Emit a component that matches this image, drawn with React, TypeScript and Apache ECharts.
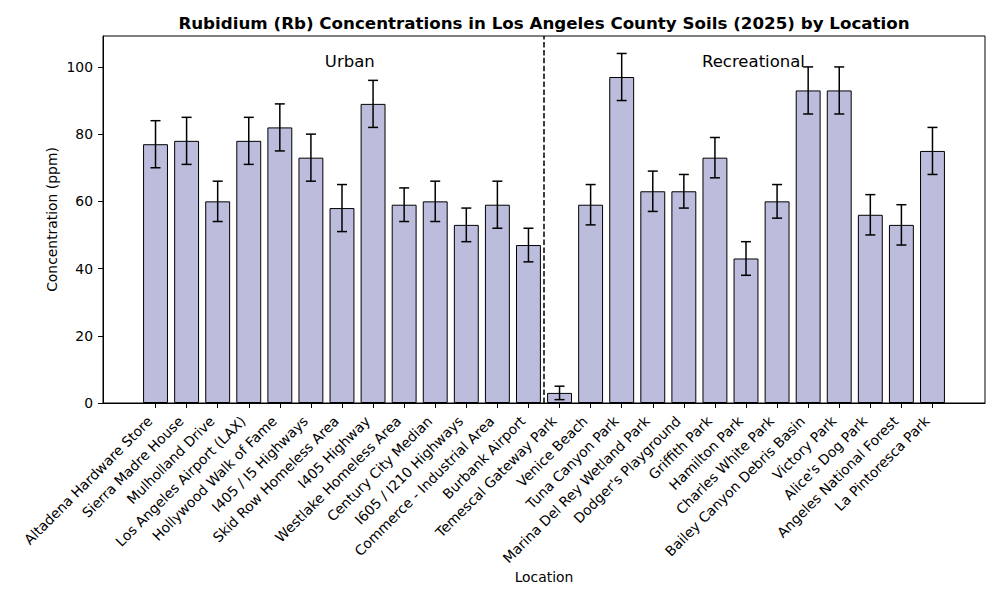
import React, { useEffect, useRef } from "react";
import * as echarts from "echarts";

const locations = [
  "Altadena Hardware Store",
  "Sierra Madre House",
  "Mulholland Drive",
  "Los Angeles Airport (LAX)",
  "Hollywood Walk of Fame",
  "I405 / I5 Highways",
  "Skid Row Homeless Area",
  "I405 Highway",
  "Westlake Homeless Area",
  "Century City Median",
  "I605 / I210 Highways",
  "Commerce - Industrial Area",
  "Burbank Airport",
  "Temescal Gateway Park",
  "Venice Beach",
  "Tuna Canyon Park",
  "Marina Del Rey Wetland Park",
  "Dodger's Playground",
  "Griffith Park",
  "Hamilton Park",
  "Charles White Park",
  "Bailey Canyon Debris Basin",
  "Victory Park",
  "Alice's Dog Park",
  "Angeles National Forest",
  "La Pintoresca Park",
];
const concentrations = [77, 78, 60, 78, 82, 73, 58, 89, 59, 60, 53, 59, 47, 3, 59, 97, 63, 63, 73, 43, 60, 93, 93, 56, 53, 75];
const errors = [7, 7, 6, 7, 7, 7, 7, 7, 5, 6, 5, 7, 5, 2, 6, 7, 6, 5, 6, 5, 5, 7, 7, 6, 6, 7];
const yTicks = [0, 20, 40, 60, 80, 100];
const groupLabels = ["Urban", "Recreational"];
const groupLabelX = [6.25, 19.24];
const groupLabelY = [100, 100];
const dividerX = 12.5;

const FONT = "DejaVu Sans";

export default function App() {
  const ref = useRef<HTMLDivElement>(null);

  useEffect(() => {
    if (!ref.current) return;
    const chart = echarts.init(ref.current, undefined, { renderer: "svg" });

    const n = locations.length;
    const lo = -0.4;
    const hi = n - 1 + 0.4;
    const pad = 0.05 * (hi - lo);
    const xMin = lo - pad;
    const xMax = hi + pad;
    const yMax = Math.max(...concentrations.map((v, i) => v + errors[i])) * 1.05;
    const xIdx = locations.map((_, i) => i);

    const option: any = {
      animation: false,
      title: {
        text: "Rubidium (Rb) Concentrations in Los Angeles County Soils (2025) by Location",
        left: 544,
        top: 14,
        textAlign: "center",
        textStyle: { fontFamily: FONT, fontSize: 16.7, fontWeight: "bold", color: "#000" },
        padding: 0,
      },
      grid: {
        left: 103,
        right: 15,
        top: 36,
        bottom: 197,
        show: true,
        borderColor: "#000",
        borderWidth: 1,
        backgroundColor: "transparent",
      },
      xAxis: {
        type: "value",
        min: xMin,
        max: xMax,
        name: "Location",
        nameLocation: "middle",
        nameGap: 167,
        nameMoveOverlap: false,
        nameTextStyle: { fontFamily: FONT, fontSize: 13.9, color: "#000" },
        axisLine: { show: true, onZero: false, lineStyle: { color: "#000", width: 1 } },
        axisTick: { show: true, length: 5, lineStyle: { color: "#000" }, customValues: xIdx },
        axisLabel: {
          customValues: xIdx,
          rotate: 45,
          margin: 10,
          padding: [0, 8, 0, 0],
          fontFamily: FONT,
          fontSize: 13.9,
          color: "#000",
          formatter: (v: number) => locations[Math.round(v)] ?? "",
        },
        splitLine: { show: false },
      },
      yAxis: {
        type: "value",
        min: 0,
        max: yMax,
        name: "Concentration (ppm)",
        nameLocation: "middle",
        nameGap: 44,
        nameMoveOverlap: false,
        nameTextStyle: { fontFamily: FONT, fontSize: 13.9, color: "#000" },
        axisLine: { show: true, onZero: false, lineStyle: { color: "#000", width: 1 } },
        axisTick: { show: true, length: 5, lineStyle: { color: "#000" }, customValues: yTicks },
        axisLabel: {
          customValues: yTicks,
          margin: 10,
          fontFamily: FONT,
          fontSize: 13.9,
          color: "#000",
        },
        splitLine: { show: false },
      },
      series: [
        {
          type: "bar",
          data: concentrations.map((v, i) => [i, v]),
          barWidth: 24.9,
          itemStyle: { color: "#bcbddc", borderColor: "#000", borderWidth: 1 },
          markLine: {
            silent: true,
            symbol: "none",
            label: { show: false },
            lineStyle: { color: "#000", type: [5.5, 2.4], width: 1.5 },
            data: [{ xAxis: dividerX }],
          },
        },
        {
          type: "custom",
          data: concentrations.map((v, i) => [i, v - errors[i], v + errors[i]]),
          encode: { x: 0, y: [1, 2] },
          renderItem: (params: any, api: any) => {
            const x = api.value(0);
            const top = api.coord([x, api.value(2)]);
            const bot = api.coord([x, api.value(1)]);
            const cap = 5;
            const style = { stroke: "#000", lineWidth: 1.5 };
            return {
              type: "group",
              children: [
                { type: "line", shape: { x1: top[0], y1: top[1], x2: bot[0], y2: bot[1] }, style },
                { type: "line", shape: { x1: top[0] - cap, y1: top[1], x2: top[0] + cap, y2: top[1] }, style },
                { type: "line", shape: { x1: bot[0] - cap, y1: bot[1], x2: bot[0] + cap, y2: bot[1] }, style },
              ],
            };
          },
          z: 5,
        },
        {
          type: "scatter",
          symbolSize: 0,
          itemStyle: { opacity: 1 },
          data: groupLabels.map((t, i) => [groupLabelX[i], groupLabelY[i], t]),
          label: {
            show: true,
            position: [0, 3],
            align: "center",
            verticalAlign: "bottom",
            formatter: (p: any) => p.value[2],
            fontFamily: FONT,
            fontSize: 16.5,
            color: "#000",
            opacity: 1,
          },
          z: 6,
        },
      ],
    };

    chart.setOption(option);
    return () => chart.dispose();
  }, []);

  return (
    <div
      ref={ref}
      style={{ position: "absolute", left: 0, top: 0, width: 1000, height: 600, background: "#fff" }}
    />
  );
}
